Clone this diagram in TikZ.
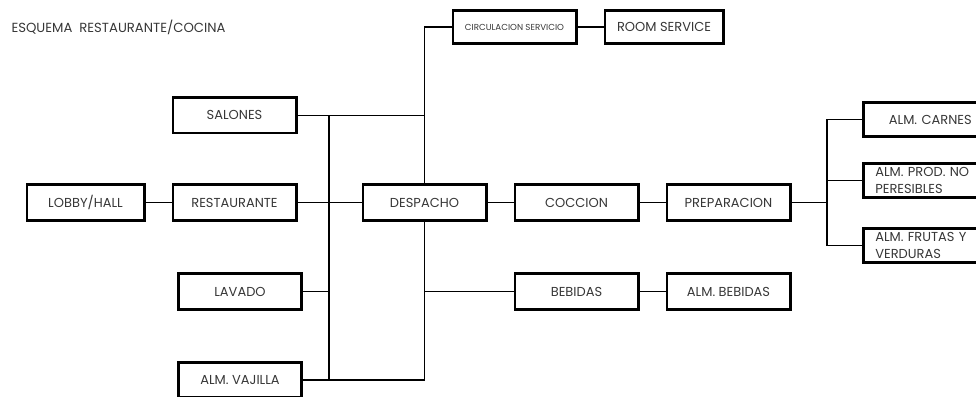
\documentclass[tikz,border=0pt]{standalone}
\usepackage{fontspec}
\setmainfont{Poppins}
\usetikzlibrary{positioning}
\definecolor{ink}{RGB}{55,55,55}

\begin{document}
\begin{tikzpicture}[
    x=1pt, y=-1pt,
    node distance=26pt,
    area/.style={rectangle, draw=black, line width=2.6pt, minimum width=123.4pt, minimum height=35.5pt, text centered, font=\fontsize{13}{17}\selectfont, text=ink, inner sep=2pt},
    store/.style={area, anchor=west, minimum height=33.5pt, text width=110pt, align=left, inner xsep=12pt},
    link/.style={line width=1.1pt, black},
]

\clip (0,0) rectangle (976,396);

\node[anchor=west, font=\fontsize{13.2}{15}\selectfont, text=ink] (title) at (8,27) {ESQUEMA\ \ RESTAURANTE/COCINA};

\node[area] (despacho) at (424.5,202.5) {DESPACHO};
\node[area, left=64pt of despacho] (restaurante) {RESTAURANTE};
\node[area, minimum width=117.4pt, left=of restaurante] (lobby) {LOBBY/HALL};
\node[area, above=49pt of restaurante] (salones) {SALONES};
\node[area] (lavado) at (240,291.5) {LAVADO};
\node[area] (vajilla) at (240,380) {ALM. VAJILLA};

\node[area, right=of despacho] (coccion) {COCCION};
\node[area, right=of coccion] (preparacion) {PREPARACION};
\node[area] (bebidas) at (coccion |- lavado) {BEBIDAS};
\node[area, right=of bebidas] (almbebidas) {ALM. BEBIDAS};

\node[area, minimum height=33.5pt, font=\fontsize{8.7}{10}\selectfont] (circulacion) at (514.5,27) {CIRCULACION SERVICIO};
\node[area, minimum width=118.4pt, minimum height=33.5pt, right=of circulacion] (roomservice) {ROOM SERVICE};

\node[store, align=center] (carnes) at (862,119.5) {ALM. CARNES};
\node[store] (prod) at (862,180.5) {ALM. PROD. NO\\PERESIBLES};
\node[store] (frutas) at (862,245.5) {ALM. FRUTAS Y\\VERDURAS};

% buses
\coordinate (busL) at (329,0);
\coordinate (busR) at (827,0);

\draw[link] (lobby) -- (restaurante);
\draw[link] (restaurante) -- (despacho);
\draw[link] (despacho) -- (coccion);
\draw[link] (coccion) -- (preparacion);
\draw[link] (bebidas) -- (almbebidas);
\draw[link] (circulacion) -- (roomservice);
\draw[link] (circulacion.west) -| (despacho.north);
\draw[link] (salones) -- (salones -| despacho);
\draw[link] (busL |- salones) -- (busL |- vajilla.east);
\draw[link] (lavado) -- (lavado -| busL);
\draw[link] (vajilla.east) -| (despacho.south);
\draw[link] (bebidas) -- (bebidas -| despacho);
\draw[link] (preparacion) -- (preparacion -| busR);
\draw[link] (carnes.west) -| (busR |- frutas.west) -- (frutas.west);
\draw[link] (prod.west) -- (prod.west -| busR);

\end{tikzpicture}
\end{document}
